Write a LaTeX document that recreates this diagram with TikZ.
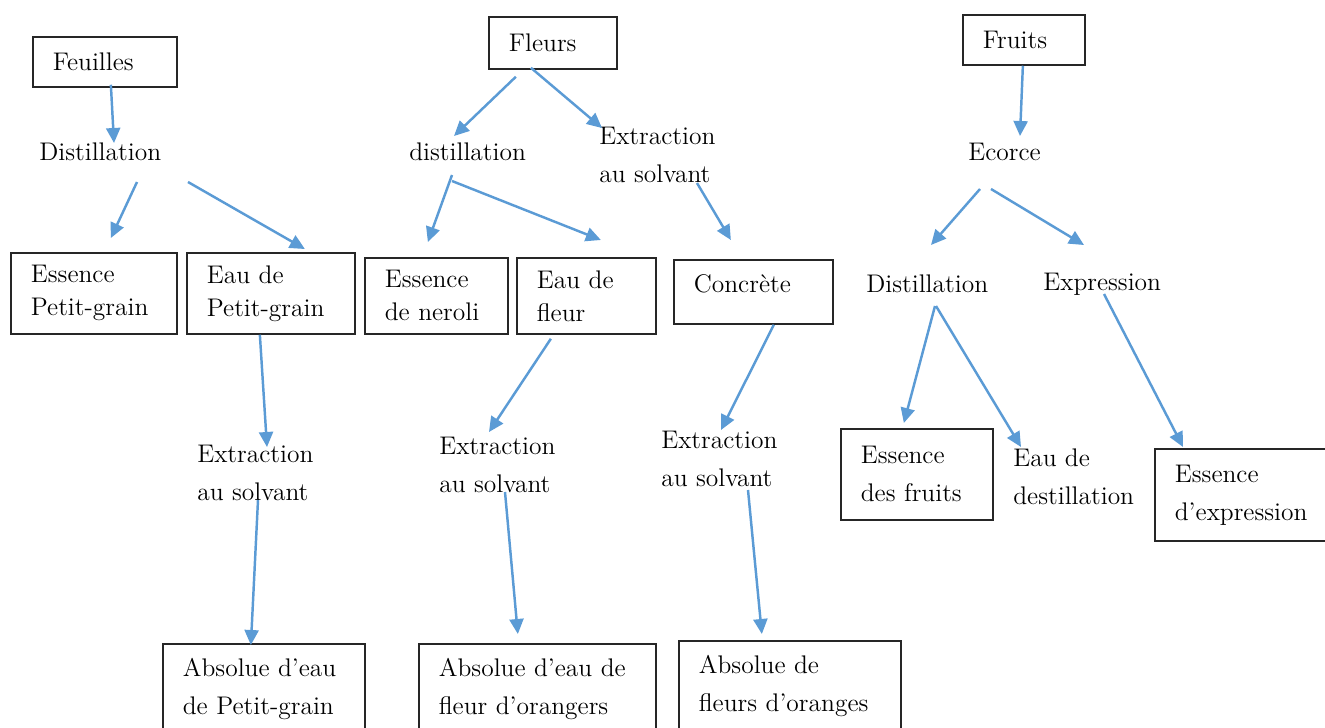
\documentclass[tikz,border=0pt]{standalone}
\usepackage{fontspec}
\usepackage{tikz}
\usetikzlibrary{arrows.meta}

\definecolor{bleu}{HTML}{5B9BD5}

\begin{document}
\begin{tikzpicture}[x=0.02cm, y=-0.02cm,
	boite/.style={draw=black!85, line width=1pt, anchor=north west, align=left,
		inner xsep=0.4cm, inner ysep=0pt, font=\fontsize{14.5}{21.6}\selectfont},
	serre/.style={font=\fontsize{14.5}{18.8}\selectfont},
	etape/.style={anchor=west, align=left, inner sep=0pt, font=\fontsize{14.5}{21.6}\selectfont},
	fleche/.style={draw=bleu, line width=1.4pt, -{Triangle[length=0.3cm, width=0.28cm]}}]

	% ---- frame

	\clip (0,0) rectangle (1325,727);

	% ---- raw materials

	\node[boite, minimum width=2.88cm, minimum height=1.0cm, text width=2.08cm] (feuilles) at (32,36) {Feuilles};
	\node[boite, minimum width=2.56cm, minimum height=1.04cm, text width=1.76cm] (fleurs) at (488,16) {Fleurs};
	\node[boite, minimum width=2.44cm, minimum height=1.0cm, text width=1.64cm] (fruits) at (962,14) {Fruits};

	% ---- processes

	\node[etape] (distF) at (39,152) {Distillation};
	\node[etape] (distM) at (409,152) {distillation};
	\node[etape] (extrH) at (599,155) {Extraction\\au solvant};
	\node[etape] (ecorce) at (968,152) {Ecorce};
	\node[etape] (distR) at (866,284) {Distillation};
	\node[etape] (expr) at (1043,284) {Expression};
	\node[etape] (extrL) at (197,473) {Extraction\\au solvant};
	\node[etape] (extrM) at (439,465) {Extraction\\au solvant};
	\node[etape] (extrR) at (661,459) {Extraction\\au solvant};
	\node[etape] (eauDest) at (1013,477) {Eau de\\destillation};

	% ---- products

	\node[boite, serre, minimum width=3.32cm, minimum height=1.62cm, text width=2.52cm] (essPG) at (10,252) {Essence\\Petit-grain};
	\node[boite, serre, minimum width=3.36cm, minimum height=1.62cm, text width=2.56cm] (eauPG) at (186,252) {Eau de\\Petit-grain};
	\node[boite, serre, minimum width=2.86cm, minimum height=1.52cm, text width=2.06cm] (essNer) at (364,257) {Essence\\de neroli};
	\node[boite, serre, minimum width=2.78cm, minimum height=1.52cm, text width=1.98cm] (eauFl) at (516,257) {Eau de\\fleur};
	\node[boite, minimum width=3.18cm, minimum height=1.28cm, text width=2.38cm] (concrete) at (673,259) {\raisebox{0.32cm}{Concrète}};
	\node[boite, minimum width=3.04cm, minimum height=1.82cm, text width=2.24cm] (essFr) at (840,428) {Essence\\des fruits};
	\node[boite, minimum width=3.6cm, minimum height=1.84cm, text width=2.8cm] (essExp) at (1154,448) {Essence\\d’expression};

	\node[boite, minimum width=4.04cm, minimum height=1.8cm, text width=3.24cm] (absPG) at (162,643) {Absolue d’eau\\de Petit-grain};
	\node[boite, minimum width=4.74cm, minimum height=1.8cm, text width=3.94cm] (absFl) at (418,643) {Absolue d’eau de\\fleur d’orangers};
	\node[boite, minimum width=4.44cm, minimum height=1.8cm, text width=3.64cm] (absFlO) at (678,640) {Absolue de\\fleurs d’oranges};

	% ---- feuilles

	\draw[fleche] ([shift={(6,-3)}]feuilles.south) -- ([shift={(75,-9)}]distF.west);
	\draw[fleche] ([shift={(98,30)}]distF.west) -- ([shift={(17,-14)}]essPG.north);
	\draw[fleche] ([shift={(149,30)}]distF.west) -- ([shift={(34,-3)}]eauPG.north);
	\draw[fleche] ([shift={(-11,0)}]eauPG.south) -- ([shift={(70,-26)}]extrL.west);
	\draw[fleche] ([shift={(61,27)}]extrL.west) -- ([shift={(-13,2)}]absPG.north);

	% ---- fleurs

	\draw[fleche] ([shift={(-37,7)}]fleurs.south) -- ([shift={(45,-16)}]distM.west);
	\draw[fleche] ([shift={(-22,-2)}]fleurs.south) -- ([shift={(3,-27)}]extrH.west);
	\draw[fleche] ([shift={(43,23)}]distM.west) -- ([shift={(-8.5,-15)}]essNer.north);
	\draw[fleche] ([shift={(43,29)}]distM.west) -- ([shift={(14.5,-17)}]eauFl.north);
	\draw[fleche] ([shift={(98,28)}]extrH.west) -- ([shift={(-22.5,-19)}]concrete.north);
	\draw[fleche] ([shift={(-35.5,4)}]eauFl.south) -- ([shift={(50,-33)}]extrM.west);
	\draw[fleche] ([shift={(20.5,0)}]concrete.south) -- ([shift={(60,-29)}]extrR.west);
	\draw[fleche] ([shift={(66,27)}]extrM.west) -- ([shift={(-19.5,-9)}]absFl.north);
	\draw[fleche] ([shift={(87,31)}]extrR.west) -- ([shift={(-28,-6)}]absFlO.north);

	% ---- fruits

	\draw[fleche] ([shift={(-1,0)}]fruits.south) -- ([shift={(52,-16)}]ecorce.west);
	\draw[fleche] ([shift={(12,37)}]ecorce.west) -- ([shift={(65,-39)}]distR.west);
	\draw[fleche] ([shift={(23,37)}]ecorce.west) -- ([shift={(41,-39)}]expr.west);
	\draw[fleche] ([shift={(69,22)}]distR.west) -- ([shift={(-13,-5)}]essFr.north);
	\draw[fleche] ([shift={(70,22)}]distR.west) -- ([shift={(8,-30)}]eauDest.west);
	\draw[fleche] ([shift={(61,10)}]expr.west) -- ([shift={(29,-1)}]essExp.north west);

\end{tikzpicture}
\end{document}
